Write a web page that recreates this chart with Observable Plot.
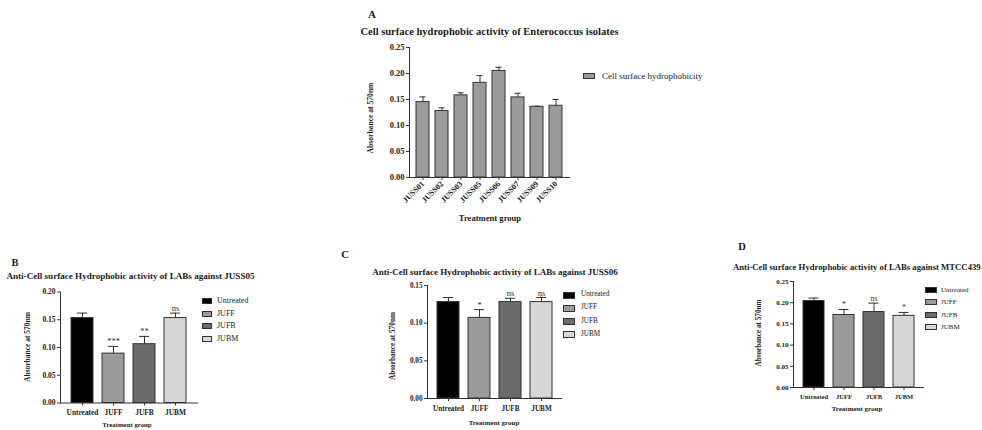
<!DOCTYPE html>
<html><head><meta charset="utf-8">
<script src="https://cdn.jsdelivr.net/npm/d3@7"></script>
<script src="https://cdn.jsdelivr.net/npm/@observablehq/plot@0.6"></script>
<style>
body{margin:0;background:#fff;}
#root{position:relative;width:982px;height:430px;overflow:hidden;font-family:"Liberation Serif","Times New Roman",serif;color:#1a1a1a;background:#fff;}
.abs{position:absolute;white-space:nowrap;line-height:1;}
.b{font-weight:bold;}
.panel{position:absolute;}
.sw{position:absolute;box-sizing:border-box;border:1px solid #333;}
</style></head><body><div id="root"></div>
<script>
// ---------- data ----------
const isolates = ["JUSS01","JUSS02","JUSS03","JUSS05","JUSS06","JUSS07","JUSS09","JUSS10"];
const hydroMean = [0.145,0.128,0.158,0.182,0.205,0.154,0.136,0.138];
const hydroUpper = [0.155,0.134,0.163,0.196,0.212,0.162,0.137,0.150];
const hydroTicks = [0,0.05,0.10,0.15,0.20,0.25];

const groups = ["Untreated","JUFF","JUFB","JUBM"];
const groupColors = ["#000000","#9a9a9a","#6b6b6b","#d6d6d6"];

const juss05Mean = [0.153,0.089,0.106,0.153];
const juss05Upper = [0.162,0.102,0.120,0.162];
const juss05Sig = ["","***","**","ns"];
const juss05Ticks = [0,0.05,0.10,0.15,0.20];

const juss06Mean = [0.128,0.107,0.128,0.128];
const juss06Upper = [0.134,0.118,0.133,0.134];
const juss06Sig = ["","*","ns","ns"];
const juss06Ticks = [0,0.05,0.10,0.15];

const mtccMean = [0.204,0.171,0.178,0.169];
const mtccUpper = [0.211,0.184,0.199,0.177];
const mtccSig = ["","*","ns","*"];
const mtccTicks = [0,0.05,0.10,0.15,0.20,0.25];

const root = document.getElementById("root");

function label(text, cx, cy, size, bold, rotate, anchor) {
  const d = document.createElement("div");
  d.className = "abs" + (bold ? " b" : "");
  d.textContent = text;
  d.style.fontSize = size + "px";
  d.style.left = cx + "px";
  d.style.top = cy + "px";
  const tx = anchor === "start" ? "0" : "-50%";
  d.style.transform = `translate(${tx},-50%)` + (rotate ? ` rotate(${rotate}deg)` : "");
  root.appendChild(d);
}

function legend(items, colors, x, y0, step, sw, sh, textGap, size) {
  items.forEach((t, i) => {
    const s = document.createElement("div");
    s.className = "sw";
    s.style.left = x + "px";
    s.style.top = (y0 + i * step - sh / 2) + "px";
    s.style.width = sw + "px";
    s.style.height = sh + "px";
    s.style.background = colors[i];
    root.appendChild(s);
    label(t, x + sw + textGap, y0 + i * step, size, false, 0, "start");
  });
}

function panel(o) {
  const data = o.cats.map((c, i) => ({cat: c, mean: o.means[i], upper: o.uppers[i], sig: o.sig ? o.sig[i] : ""}));
  const chart = Plot.plot({
    width: o.width, height: o.height,
    marginLeft: o.ml, marginRight: o.mr, marginTop: o.mt, marginBottom: o.mb,
    style: {fontFamily: "Liberation Serif", fontWeight: "bold", fontSize: o.fs + "px", color: "#222", background: "transparent", overflow: "visible"},
    x: {type: "band", domain: o.cats, padding: o.padding, label: null},
    y: {domain: [0, o.ticks[o.ticks.length - 1]], label: null},
    color: {domain: o.cats, range: o.colors},
    marks: [
      Plot.barY(data, {x: "cat", y: "mean", fill: "cat", stroke: "#333", strokeWidth: 1}),
      Plot.ruleX(data, {x: "cat", y1: "mean", y2: "upper", stroke: "#333", strokeWidth: 1}),
      Plot.tickY(data, {x: "cat", y: "upper", stroke: "#333", strokeWidth: 1, insetLeft: o.capInset, insetRight: o.capInset}),
      Plot.text(data.filter(d => d.sig), {x: "cat", y: "upper", text: "sig", lineAnchor: "bottom", dy: -2, fontWeight: "normal", fontSize: o.sigSize, fill: "#333"}),
      Plot.axisY({ticks: o.ticks, tickFormat: d3.format(".2f"), tickSize: 3, tickPadding: 2, label: null, stroke: "#333"}),
      Plot.axisX({tickSize: 3, tickPadding: o.xPad, tickRotate: o.rotate || 0, fontSize: o.xfs, label: null, stroke: "#333"}),
      Plot.frame({anchor: "left", stroke: "#333"}),
      Plot.frame({anchor: "bottom", stroke: "#333"})
    ]
  });
  const wrap = document.createElement("div");
  wrap.className = "panel";
  wrap.style.left = o.left + "px";
  wrap.style.top = o.top + "px";
  wrap.appendChild(chart);
  root.appendChild(wrap);
}

// ---------- Panel A ----------
panel({left: 340, top: 40, width: 240, height: 190, ml: 69, mr: 11, mt: 7, mb: 53,
  cats: isolates, means: hydroMean, uppers: hydroUpper, colors: isolates.map(() => "#9b9b9b"),
  ticks: hydroTicks, padding: 0.32, capInset: 3.5, fs: 8.5, xfs: 8, rotate: -45, xPad: 2, sigSize: 8});
label("A", 372, 14, 11, true);
label("Cell surface hydrophobic activity of Enterococcus isolates", 489.5, 32, 10.5, true);
label("Absorbance at 570nm", 371, 118, 7.6, true, -90);
label("Treatment group", 490, 218, 8.6, true);
legend(["Cell surface hydrophobicity"], ["#9b9b9b"], 583, 76, 12, 12, 6, 7, 9);

// ---------- Panel B ----------
panel({left: 0, top: 280, width: 205, height: 140, ml: 60, mr: 8, mt: 11.5, mb: 17.5,
  cats: groups, means: juss05Mean, uppers: juss05Upper, sig: juss05Sig, colors: groupColors,
  ticks: juss05Ticks, padding: 0.3, capInset: 6, fs: 7.5, xfs: 7.4, xPad: 4, sigSize: 8.5});
label("B", 15, 263, 10.5, true);
label("Anti-Cell surface Hydrophobic activity of LABs against JUSS05", 130.5, 277, 9.1, true);
label("Absorbance at 570nm", 28, 347, 7.5, true, -90);
label("Treatment group", 127, 425, 6.8, true);
legend(groups, groupColors, 202, 301, 12.7, 10, 6, 5, 8);

// ---------- Panel C ----------
panel({left: 380, top: 275, width: 190, height: 140, ml: 47, mr: 9, mt: 10, mb: 17,
  cats: groups, means: juss06Mean, uppers: juss06Upper, sig: juss06Sig, colors: groupColors,
  ticks: juss06Ticks, padding: 0.3, capInset: 6, fs: 7.2, xfs: 7.2, xPad: 4, sigSize: 8.5});
label("C", 345, 255, 10.5, true);
label("Anti-Cell surface Hydrophobic activity of LABs against JUSS06", 495, 272, 9, true);
label("Absorbance at 570nm", 393, 346, 7.3, true, -90);
label("Treatment group", 494, 423, 7, true);
legend(groups, groupColors, 563, 295, 13.3, 12, 7, 6, 7.2);

// ---------- Panel D ----------
panel({left: 750, top: 272, width: 180, height: 130, ml: 43, mr: 7, mt: 9, mb: 15,
  cats: groups, means: mtccMean, uppers: mtccUpper, sig: mtccSig, colors: groupColors,
  ticks: mtccTicks, padding: 0.3, capInset: 5.5, fs: 7, xfs: 6.5, xPad: 4, sigSize: 8});
label("D", 742, 247, 10.5, true);
label("Anti-Cell surface Hydrophobic activity of LABs against MTCC439", 733, 267, 8.7, true, 0, "start");
label("Absorbance at 570nm", 760, 333, 7.2, true, -90);
label("Treatment group", 857, 409, 7, true);
legend(groups, groupColors, 925, 290, 12.3, 12, 6, 4, 7);
</script></body></html>
